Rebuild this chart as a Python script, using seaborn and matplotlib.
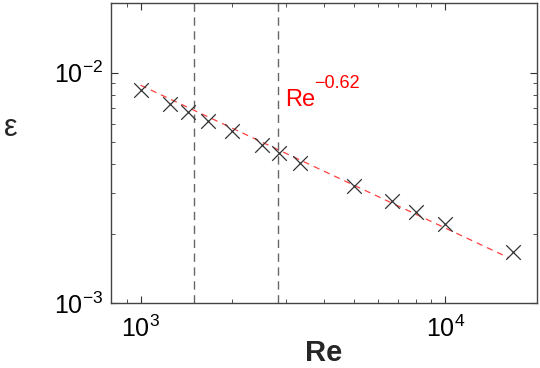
import numpy as np
import pandas as pd
import matplotlib
matplotlib.use("Agg")
import matplotlib.pyplot as plt
import seaborn as sns
from matplotlib.ticker import LogLocator, NullFormatter

# data
re_vals = [1000, 1250, 1430, 1667, 2000, 2500, 2857, 3333, 5000, 6667, 8000, 10000, 16667]
eps_vals = [0.00839, 0.00734, 0.00676, 0.00617, 0.00558, 0.00485, 0.00447, 0.00407,
            0.00321, 0.00276, 0.00249, 0.00220, 0.00166]
fit_coef = 0.639
fit_exp = -0.62
fit_re = [1000, 16100]
vlines_re = [1500, 2820]

sns.set_style("ticks")
plt.rcParams["font.family"] = ["Liberation Sans", "DejaVu Sans"]

fig = plt.figure(figsize=(5.4, 3.68), dpi=100)
ax = fig.add_axes([0.2056, 0.1766, 0.7888, 0.8144])

fit_df = pd.DataFrame({"Re": fit_re,
                       "eps": [fit_coef * r ** fit_exp for r in fit_re]})
sns.lineplot(data=fit_df, x="Re", y="eps", ax=ax, color="#ff4040",
             linestyle=(0, (5, 4)), linewidth=0.9)

pts = pd.DataFrame({"Re": re_vals, "eps": eps_vals})
sns.scatterplot(data=pts, x="Re", y="eps", ax=ax, marker="x", s=110,
                color="#333333", linewidth=0.9, zorder=3)

for v in vlines_re:
    ax.axvline(v, color="#666666", linestyle=(0, (6, 4)), linewidth=1.0)

ax.set_xscale("log")
ax.set_yscale("log")
ax.set_xlim(800, 2e4)
ax.set_ylim(1e-3, 2e-2)

ax.xaxis.set_major_locator(LogLocator(base=10, numticks=10))
ax.yaxis.set_major_locator(LogLocator(base=10, numticks=10))
ax.xaxis.set_minor_locator(LogLocator(base=10, subs=np.arange(2, 10), numticks=10))
ax.yaxis.set_minor_locator(LogLocator(base=10, subs=np.arange(2, 10), numticks=10))
ax.xaxis.set_minor_formatter(NullFormatter())
ax.yaxis.set_minor_formatter(NullFormatter())

ax.tick_params(which="both", direction="in", top=True, right=True,
               colors="#333333", labelcolor="black")
ax.tick_params(which="major", length=5, width=0.8, labelsize=18)
ax.tick_params(axis="x", which="major", pad=9)
ax.tick_params(axis="y", which="major", pad=6)
ax.tick_params(which="minor", length=3, width=0.6)
for s in ax.spines.values():
    s.set_visible(True)
    s.set_color("#444444")
    s.set_linewidth(1.0)

ax.text(2980, 0.00717, "Re", color="red", fontsize=17)
ax.text(3720, 0.00860, "−0.62", color="red", fontsize=13)

ax.set_xlabel("Re", fontsize=21, fontweight="bold", labelpad=-2)
ax.set_ylabel("ε", fontsize=22, rotation=0, va="center", ha="center")
ax.yaxis.set_label_coords(-0.235, 0.583)

fig.savefig("out.png", dpi=100)
